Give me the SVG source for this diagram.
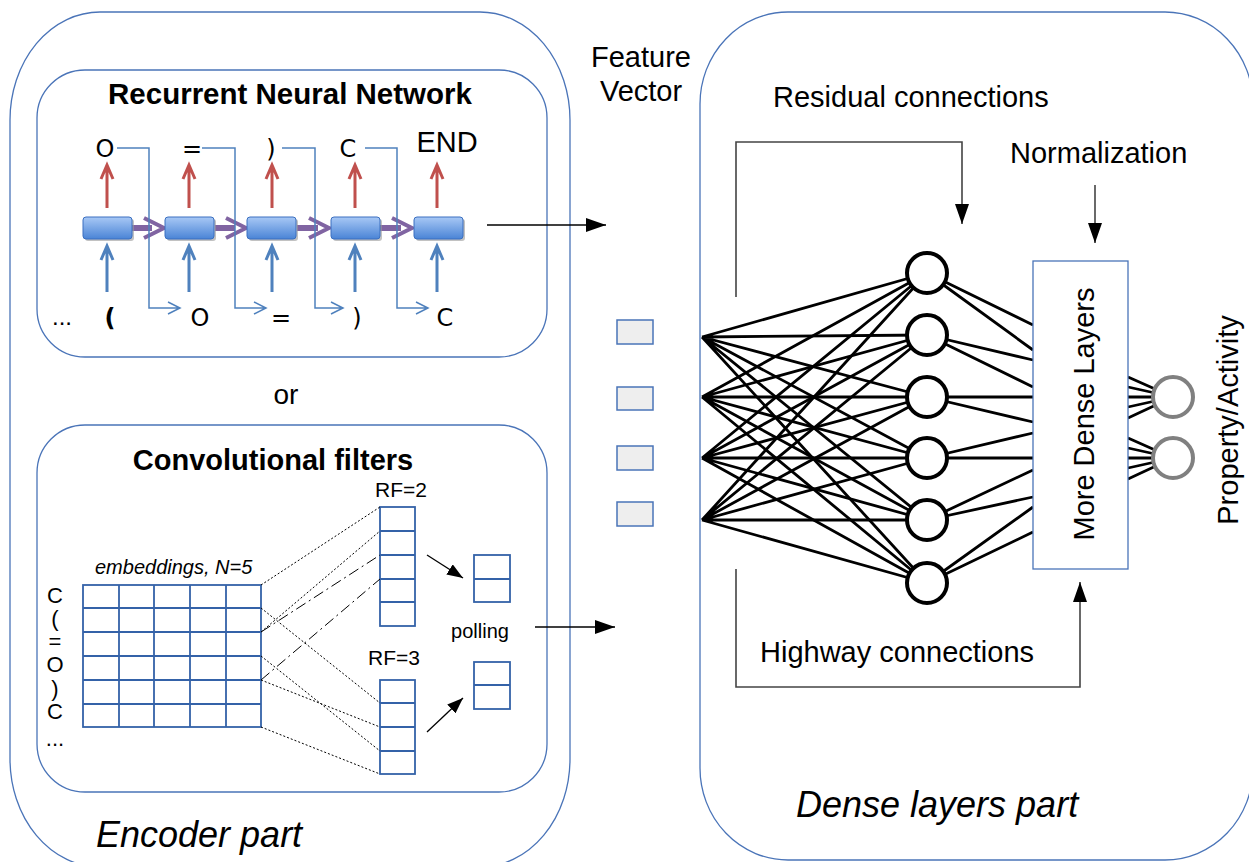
<svg xmlns="http://www.w3.org/2000/svg" width="1249" height="862" viewBox="0 0 1249 862">
<style>
text{font-family:"Liberation Sans",Arial,sans-serif;fill:#000}
.dv{font-family:"DejaVu Sans","Liberation Sans",sans-serif;font-size:24px}
.cont{fill:none;stroke:#4a74b8;stroke-width:1.3}
.cell{fill:url(#cg);stroke:#3a6fc0;stroke-width:1}
.sh{fill:#9a9a9a;opacity:.6}
.red{stroke:#c0504d;stroke-width:3;fill:none}
.blu{stroke:#4f81bd;stroke-width:3;fill:none}
.pur{stroke:#8064a2;fill:none}
.thin{stroke:#4f81bd;stroke-width:1.5;fill:none}
.grid{stroke:#3462a8;stroke-width:1.8;fill:none}
.col{fill:#fff;stroke:#3462a8;stroke-width:1.8}
.dot{stroke:#000;stroke-width:1;stroke-dasharray:2,2;fill:none}
.dd{stroke:#000;stroke-width:1;stroke-dasharray:11,4,2,4;fill:none}
.arr{stroke:#000;stroke-width:1.3;fill:none}
.gl{stroke:#444;stroke-width:1.6;fill:none}
.nn{stroke:#000;stroke-width:2.8}
.hid{fill:#fff;stroke:#000;stroke-width:4}
.out{fill:#fff;stroke:#808080;stroke-width:4}
.fv{fill:#eeeeee;stroke:#4a74b8;stroke-width:1.5}
</style>
<defs>
<linearGradient id="cg" x1="0" y1="0" x2="0" y2="1">
<stop offset="0" stop-color="#a8c8f5"/>
<stop offset="1" stop-color="#4a84d6"/>
</linearGradient>
<marker id="ah" viewBox="0 0 20 14" refX="20" refY="7" markerWidth="20" markerHeight="14" markerUnits="userSpaceOnUse" orient="auto"><path d="M0,0 L20,7 L0,14 z" fill="#000"/></marker>
<marker id="ahs" viewBox="0 0 16 12" refX="16" refY="6" markerWidth="16" markerHeight="12" markerUnits="userSpaceOnUse" orient="auto"><path d="M0,0 L16,6 L0,12 z" fill="#000"/></marker>
</defs>
<rect width="1249" height="862" fill="#fff"/>

<g id="encoder-part">
<rect class="cont" x="10" y="12" width="560" height="855" rx="90" ry="108"/>
<text x="96" y="847" font-size="36" font-style="italic">Encoder part</text>
<text x="286" y="404" font-size="28" text-anchor="middle">or</text>
</g>

<g id="rnn">
<rect class="cont" x="37" y="70" width="510" height="287" rx="48" ry="48"/>
<text x="290" y="104" font-size="29.5" font-weight="bold" text-anchor="middle">Recurrent Neural Network</text>
<g id="rnn-purple">
<path class="pur" stroke-width="6" d="M132,228 H152 M215,228 H235 M297,228 H318 M380,228 H401"/>
<path class="pur" stroke-width="4" d="M144,218 L164,228 L144,238 M226,218 L246,228 L226,238 M309,218 L329,228 L309,238 M392,218 L412,228 L392,238"/>
</g>
<g id="rnn-cells">
<rect class="sh" x="85" y="219" width="49" height="22" rx="3"/>
<rect class="sh" x="167" y="219" width="49" height="22" rx="3"/>
<rect class="sh" x="249" y="219" width="49" height="22" rx="3"/>
<rect class="sh" x="333" y="219" width="49" height="22" rx="3"/>
<rect class="sh" x="416" y="219" width="49" height="22" rx="3"/>
<rect class="cell" x="83" y="217" width="49" height="22" rx="3"/>
<rect class="cell" x="165" y="217" width="49" height="22" rx="3"/>
<rect class="cell" x="247" y="217" width="49" height="22" rx="3"/>
<rect class="cell" x="331" y="217" width="49" height="22" rx="3"/>
<rect class="cell" x="414" y="217" width="49" height="22" rx="3"/>
</g>
<g id="rnn-out-arrows">
<path class="red" d="M107,208 V167 M101,179 L107,165 L113,179"/>
<path class="red" d="M189,208 V167 M183,179 L189,165 L195,179"/>
<path class="red" d="M272,208 V167 M266,179 L272,165 L278,179"/>
<path class="red" d="M355,208 V167 M349,179 L355,165 L361,179"/>
<path class="red" d="M437,208 V167 M431,179 L437,165 L443,179"/>
</g>
<g id="rnn-in-arrows">
<path class="blu" d="M107,292 V248 M101,260 L107,246 L113,260"/>
<path class="blu" d="M189,292 V248 M183,260 L189,246 L195,260"/>
<path class="blu" d="M272,292 V248 M266,260 L272,246 L278,260"/>
<path class="blu" d="M355,292 V248 M349,260 L355,246 L361,260"/>
<path class="blu" d="M437,292 V248 M431,260 L437,246 L443,260"/>
</g>
<g id="rnn-feedback">
<path class="thin" d="M117,148 H149 V308 H180 M168,302 L180,308 L168,314"/>
<path class="thin" d="M202,148 H235 V308 H266 M254,302 L266,308 L254,314"/>
<path class="thin" d="M282,148 H315 V308 H343 M331,302 L343,308 L331,314"/>
<path class="thin" d="M365,148 H397 V308 H428 M416,302 L428,308 L416,314"/>
</g>
<g id="rnn-labels">
<text class="dv" x="105" y="157" text-anchor="middle">O</text>
<text class="dv" x="192" y="157" text-anchor="middle">=</text>
<text class="dv" x="271" y="157" text-anchor="middle">)</text>
<text class="dv" x="348" y="157" text-anchor="middle">C</text>
<text x="447" y="152" font-size="29" text-anchor="middle">END</text>
<text x="62" y="325" font-size="24" text-anchor="middle">...</text>
<text class="dv" x="110" y="326" text-anchor="middle" font-weight="bold">(</text>
<text class="dv" x="200" y="326" text-anchor="middle">O</text>
<text class="dv" x="281" y="326" text-anchor="middle">=</text>
<text class="dv" x="357" y="326" text-anchor="middle">)</text>
<text class="dv" x="445" y="326" text-anchor="middle">C</text>
</g>
</g>

<g id="conv">
<rect class="cont" x="37" y="425" width="510" height="367" rx="48" ry="48"/>
<text x="273" y="470" font-size="29" font-weight="bold" text-anchor="middle">Convolutional filters</text>
<text x="95" y="574" font-size="20" font-style="italic">embeddings, N=5</text>
<g id="row-labels" font-size="22" text-anchor="middle">
<text x="55" y="603">C</text>
<text x="55" y="626">(</text>
<text x="55" y="649">=</text>
<text x="55" y="672">O</text>
<text x="55" y="696">)</text>
<text x="55" y="719">C</text>
<text x="55" y="746">...</text>
</g>
<g id="embedding-grid">
<rect class="grid" x="83" y="585" width="178" height="142"/>
<path class="grid" d="M119,585 V727 M154,585 V727 M190,585 V727 M226,585 V727 M83,608 H261 M83,632 H261 M83,656 H261 M83,680 H261 M83,704 H261"/>
</g>
<g id="rf2">
<text x="401" y="497" font-size="21" text-anchor="middle">RF=2</text>
<rect class="col" x="380" y="507" width="35" height="119"/>
<path class="grid" d="M380,531 H415 M380,555 H415 M380,579 H415 M380,602 H415"/>
</g>
<g id="rf3">
<text x="394" y="665" font-size="21" text-anchor="middle">RF=3</text>
<rect class="col" x="380" y="680" width="35" height="94"/>
<path class="grid" d="M380,703 H415 M380,727 H415 M380,751 H415"/>
</g>
<g id="pool1">
<rect class="col" x="474" y="555" width="36" height="47"/>
<path class="grid" d="M474,579 H510"/>
</g>
<g id="pool2">
<rect class="col" x="474" y="662" width="36" height="47"/>
<path class="grid" d="M474,685 H510"/>
</g>
<text x="480" y="638" font-size="20" text-anchor="middle">polling</text>
</g>

<g id="feature-vector">
<text x="641" y="67" font-size="29" text-anchor="middle">Feature</text>
<text x="641" y="101" font-size="29" text-anchor="middle">Vector</text>
<rect class="fv" x="617" y="320" width="36" height="24"/>
<rect class="fv" x="617" y="387" width="36" height="23"/>
<rect class="fv" x="617" y="446" width="36" height="24"/>
<rect class="fv" x="617" y="502" width="36" height="24"/>
</g>

<g id="dense-part">
<rect class="cont" x="700" y="12" width="553" height="848" rx="88" ry="92"/>
<text x="796" y="817" font-size="36" font-style="italic">Dense layers part</text>
<text x="773" y="107" font-size="29">Residual connections</text>
<text x="1010" y="163" font-size="29">Normalization</text>
<text x="760" y="662" font-size="29">Highway connections</text>
</g>

<g id="connectors">
<g id="filter-lines">
<path class="dot" d="M261,585 L380,507 M261,632 L380,531"/>
<path class="dd" d="M261,632 L380,555 M261,680 L380,579"/>
<path class="dot" d="M261,608 L380,703 M261,680 L380,727 M261,656 L380,751 M261,727 L380,774"/>
</g>
<path class="arr" d="M427,555 L463,578" marker-end="url(#ahs)"/>
<path class="arr" d="M427,732 L463,698" marker-end="url(#ahs)"/>
<path class="arr" d="M487,225 L606,225" marker-end="url(#ah)"/>
<path class="arr" d="M535,627 L615,627" marker-end="url(#ah)"/>
<path class="gl" d="M736,297 V142 H962 V224" marker-end="url(#ah)"/>
<path class="gl" d="M1095,185 V243" marker-end="url(#ah)"/>
<path class="gl" d="M736,569 V687 H1080 V582" marker-end="url(#ah)"/>
<g id="nn-lines" class="nn">
<path d="M702,337 L927,273 M702,337 L927,335 M702,337 L927,397 M702,337 L927,458 M702,337 L927,520 M702,337 L927,583"/>
<path d="M702,397 L927,273 M702,397 L927,335 M702,397 L927,397 M702,397 L927,458 M702,397 L927,520 M702,397 L927,583"/>
<path d="M702,458 L927,273 M702,458 L927,335 M702,458 L927,397 M702,458 L927,458 M702,458 L927,520 M702,458 L927,583"/>
<path d="M702,520 L927,273 M702,520 L927,335 M702,520 L927,397 M702,520 L927,458 M702,520 L927,520 M702,520 L927,583"/>
<path d="M927,273 L1033,325 M927,273 L1033,350 M927,335 L1033,360 M927,335 L1033,387 M927,397 L1033,397 M927,397 L1033,422 M927,458 L1033,433 M927,458 L1033,458 M927,520 L1033,470 M927,520 L1033,497 M927,583 L1033,507 M927,583 L1033,532"/>
<path d="M1128,377 L1173,397 M1128,387 L1173,397 M1128,397 L1173,397 M1128,407 L1173,397 M1128,418 L1173,397"/>
<path d="M1128,438 L1173,458 M1128,448 L1173,458 M1128,458 L1173,458 M1128,468 L1173,458 M1128,479 L1173,458"/>
</g>
</g>

<g id="hidden-layer">
<circle class="hid" cx="927" cy="273" r="20"/>
<circle class="hid" cx="927" cy="335" r="20"/>
<circle class="hid" cx="927" cy="397" r="20"/>
<circle class="hid" cx="927" cy="458" r="20"/>
<circle class="hid" cx="927" cy="520" r="20"/>
<circle class="hid" cx="927" cy="583" r="20"/>
</g>
<g id="more-dense-layers">
<rect x="1033" y="261" width="95" height="308" fill="#fff" stroke="#4a74b8" stroke-width="1.3"/>
<text transform="translate(1094,414) rotate(-90)" font-size="29" text-anchor="middle">More Dense Layers</text>
</g>
<g id="output-layer">
<circle class="out" cx="1173" cy="397" r="20"/>
<circle class="out" cx="1173" cy="458" r="20"/>
<text transform="translate(1238,420) rotate(-90)" font-size="29" text-anchor="middle">Property/Activity</text>
</g>
</svg>
